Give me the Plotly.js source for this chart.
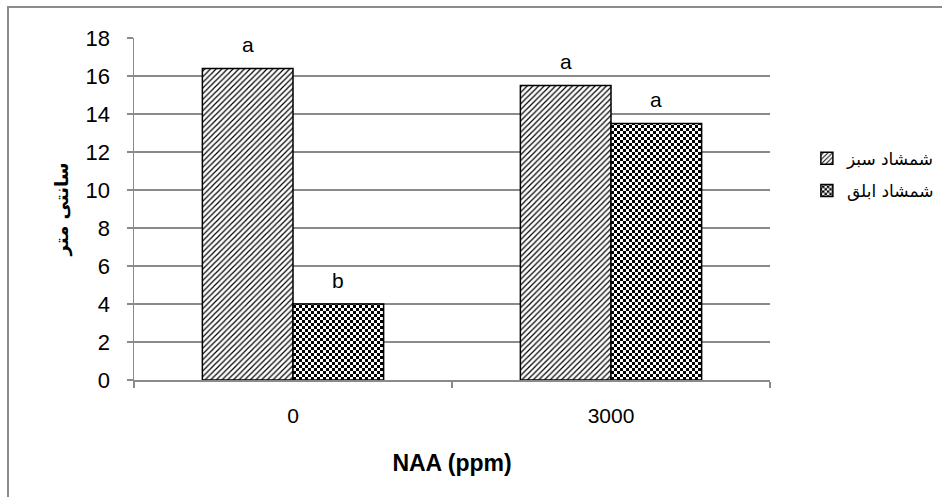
<!DOCTYPE html>
<html>
<head>
<meta charset="utf-8">
<script src="https://cdn.plot.ly/plotly-3.0.1.min.js"></script>
<style>
html,body{margin:0;padding:0;background:#fff;}
#chart{width:942px;height:497px;}
</style>
</head>
<body>
<div id="chart"></div>
<script>
// Data
var categories = ['0', '3000'];
var seriesNames = ['شمشاد سبز', 'شمشاد ابلق'];
var greenBoxwood = [16.4, 15.5];
var variegatedBoxwood = [4.0, 13.5];
var greenLetters = ['a', 'a'];
var variegatedLetters = ['b', 'a'];
var yTicks = [0, 2, 4, 6, 8, 10, 12, 14, 16, 18];
var xTitle = 'NAA (ppm)';
var yTitle = 'سانتی متر';

var FONT = 'Liberation Sans, DejaVu Sans, sans-serif';
var GRID = '#8a8a8a';

var traces = [
  {
    type: 'bar', name: seriesNames[0], x: categories, y: greenBoxwood,
    legendgroup: 'g1',
    marker: {
      color: '#ffffff',
      line: {color: '#000000', width: 1.5},
      pattern: {shape: '/', fgcolor: '#000000', bgcolor: '#ffffff', size: 4, solidity: 0.3}
    },
    hoverinfo: 'skip'
  },
  {
    type: 'bar', name: seriesNames[1], x: categories, y: variegatedBoxwood,
    legendgroup: 'g2',
    marker: {
      color: '#ffffff',
      line: {color: '#000000', width: 1.5},
      pattern: {shape: '.', fgcolor: '#000000', bgcolor: '#ffffff', size: 6, solidity: 0.5}
    },
    hoverinfo: 'skip'
  }
];

// significance letters placed above each bar from the data arrays
var BARGAP = 0.43;
var annotations = [];
function addLetters(values, letters, side) {
  values.forEach(function (v, i) {
    annotations.push({
      x: i + side * (1 - BARGAP) / 4, xref: 'x', y: v, yref: 'y',
      text: letters[i], showarrow: false, yshift: 24, yanchor: 'middle',
      font: {family: FONT, size: 21, color: '#000'}
    });
  });
}
addLetters(greenBoxwood, greenLetters, -1);
addLetters(variegatedBoxwood, variegatedLetters, 1);

var layout = {
  width: 942, height: 497,
  margin: {l: 134, r: 172, t: 38, b: 117, autoexpand: false},
  paper_bgcolor: '#ffffff', plot_bgcolor: '#ffffff',
  font: {family: FONT, size: 16, color: '#000'},
  barmode: 'group', bargap: BARGAP, bargroupgap: 0,
  showlegend: true,
  legend: {
    x: 1.058, xanchor: 'left', y: 0.6, yanchor: 'middle',
    font: {family: 'DejaVu Sans, sans-serif', size: 17, color: '#000'},
    traceorder: 'grouped', tracegroupgap: 7, itemwidth: 30,
    bgcolor: 'rgba(0,0,0,0)'
  },
  xaxis: {
    type: 'category', tickmode: 'array', tickvals: categories, ticktext: categories,
    showline: true, linecolor: GRID, linewidth: 1.5,
    ticks: 'outside', tickson: 'boundaries', ticklen: 6, tickcolor: GRID, tickwidth: 1.3,
    ticklabelstandoff: 16,
    showgrid: false, zeroline: false,
    tickfont: {family: FONT, size: 21, color: '#000'},
    title: {text: '<b>' + xTitle + '</b>', font: {family: FONT, size: 23, color: '#000'}, standoff: 29},
    automargin: false
  },
  yaxis: {
    range: [0, 18], tickmode: 'array', tickvals: yTicks,
    showline: true, linecolor: GRID, linewidth: 1.5,
    ticks: 'outside', ticklen: 6, tickcolor: GRID, tickwidth: 1.3,
    ticklabelstandoff: 12,
    showgrid: true, gridcolor: GRID, gridwidth: 1.3, zeroline: false,
    tickfont: {family: FONT, size: 22, color: '#000'},
    title: {text: '<b>' + yTitle + '</b>', font: {family: 'DejaVu Sans, sans-serif', size: 18, color: '#000'}, standoff: 12},
    automargin: false
  },
  annotations: annotations,
  shapes: [{
    type: 'rect', xref: 'paper', yref: 'paper',
    x0: (8 - 134) / 636, x1: 2, y0: -2, y1: (380 - 7) / 342,
    line: {color: '#8c8c8c', width: 2}, fillcolor: 'rgba(0,0,0,0)', layer: 'below'
  }]
};

function checkerize() {
  var NS = 'http://www.w3.org/2000/svg';
  var pats = document.querySelectorAll('#chart pattern');
  pats.forEach(function (p) {
    if (!p.querySelector('circle')) return;
    var w = parseFloat(p.getAttribute('width')) || 6;
    var h = w / 2;
    while (p.firstChild) p.removeChild(p.firstChild);
    var r = document.createElementNS(NS, 'rect');
    r.setAttribute('width', w); r.setAttribute('height', w); r.setAttribute('fill', '#ffffff');
    var path = document.createElementNS(NS, 'path');
    path.setAttribute('d', 'M0,0H' + h + 'V' + h + 'H0Z M' + h + ',' + h + 'H' + w + 'V' + w + 'H' + h + 'Z');
    path.setAttribute('fill', '#000000');
    p.appendChild(r); p.appendChild(path);
  });
}

Plotly.newPlot('chart', traces, layout, {staticPlot: true}).then(checkerize);
</script>
</body>
</html>
